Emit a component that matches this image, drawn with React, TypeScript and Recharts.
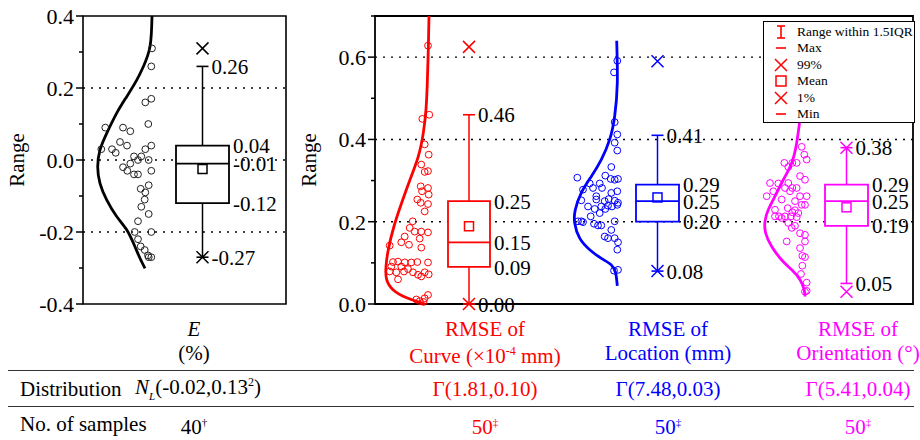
import React from 'react';
import {
  ComposedChart,
  XAxis,
  YAxis,
  CartesianGrid,
  Line,
  Scatter,
  ReferenceArea,
  ReferenceLine,
} from 'recharts';

const FONT = '"Liberation Serif", "Times New Roman", serif';
const RED = '#ff0000';
const BLUE = '#0000ff';
const MAGENTA = '#ff00ff';

// ---- axes ----
const LEFT_TICKS = [-0.4, -0.3, -0.2, -0.1, 0, 0.1, 0.2, 0.3, 0.4];
const RIGHT_TICKS = [0, 0.1, 0.2, 0.3, 0.4, 0.5, 0.6, 0.7];
const LEFT_GRID = [-0.2, 0, 0.2];
const RIGHT_GRID = [0.2, 0.4, 0.6];

// ---- E (%) panel : samples, fitted normal curve, box stats ----
const eSamples = [
  { x: 69, y: 0.31 }, { x: 68.3, y: 0.26 }, { x: 68.3, y: 0.17 }, { x: 62.3, y: 0.16 },
  { x: 65.3, y: 0.1 }, { x: 22.3, y: 0.09 }, { x: 40, y: 0.09 }, { x: 47.3, y: 0.08 },
  { x: 37, y: 0.05 }, { x: 44, y: 0.04 }, { x: 68.3, y: 0.04 }, { x: 18.3, y: 0.03 },
  { x: 29, y: 0.03 }, { x: 32.7, y: 0.02 }, { x: 62.3, y: 0.03 }, { x: 58.3, y: 0.01 },
  { x: 51, y: 0.01 }, { x: 55, y: 0.0 }, { x: 65.7, y: 0.0 }, { x: 47.3, y: -0.01 },
  { x: 40, y: -0.02 }, { x: 44.3, y: -0.03 }, { x: 68.3, y: -0.03 }, { x: 51, y: -0.04 },
  { x: 55, y: -0.04 }, { x: 65.7, y: -0.07 }, { x: 57.7, y: -0.08 }, { x: 62.3, y: -0.09 },
  { x: 61.7, y: -0.11 }, { x: 58.3, y: -0.13 }, { x: 65.7, y: -0.15 }, { x: 55, y: -0.17 },
  { x: 68.3, y: -0.2 }, { x: 51.7, y: -0.2 }, { x: 55, y: -0.22 }, { x: 57.7, y: -0.24 },
  { x: 61.7, y: -0.25 }, { x: 65, y: -0.265 }, { x: 68.3, y: -0.27 }, { x: 65.7, y: -0.27 },
];
const eCurve = [
  { y: 0.4, x: 69 }, { y: 0.315, x: 67 }, { y: 0.259, x: 60.3 }, { y: 0.222, x: 53.7 },
  { y: 0.176, x: 43.7 }, { y: 0.13, x: 33.7 }, { y: 0.074, x: 23.7 }, { y: 0.028, x: 17 },
  { y: -0.019, x: 14.7 }, { y: -0.065, x: 17 }, { y: -0.111, x: 23.7 }, { y: -0.157, x: 33.7 },
  { y: -0.194, x: 43.7 }, { y: -0.241, x: 52 }, { y: -0.273, x: 57 }, { y: -0.301, x: 62 },
];
const eStats = { lo: -0.27, q1: -0.12, med: -0.01, q3: 0.04, hi: 0.26, mean: -0.025 };
const eExtremes = [0.31, -0.27];

// ---- RMSE panel ----
const curveSamples = [
  { x: 53, y: 0.628 }, { x: 47.3, y: 0.45 }, { x: 54.3, y: 0.46 }, { x: 49.7, y: 0.388 },
  { x: 53.7, y: 0.363 }, { x: 46.3, y: 0.339 }, { x: 53, y: 0.323 }, { x: 49.7, y: 0.321 },
  { x: 45.7, y: 0.286 }, { x: 53, y: 0.282 }, { x: 47, y: 0.274 }, { x: 53.7, y: 0.266 },
  { x: 42.3, y: 0.254 }, { x: 45.7, y: 0.246 }, { x: 53, y: 0.243 }, { x: 49.7, y: 0.225 },
  { x: 37.7, y: 0.201 }, { x: 34.7, y: 0.185 }, { x: 39.7, y: 0.176 }, { x: 46.3, y: 0.176 },
  { x: 53, y: 0.174 }, { x: 29.7, y: 0.164 }, { x: 44.7, y: 0.159 }, { x: 26.3, y: 0.15 },
  { x: 34, y: 0.144 }, { x: 14.7, y: 0.142 }, { x: 46.3, y: 0.137 }, { x: 18, y: 0.102 },
  { x: 23, y: 0.103 }, { x: 29.7, y: 0.101 }, { x: 36.3, y: 0.101 }, { x: 42.3, y: 0.102 },
  { x: 53, y: 0.101 }, { x: 16.3, y: 0.091 }, { x: 26.3, y: 0.091 }, { x: 33, y: 0.085 },
  { x: 38, y: 0.077 }, { x: 43, y: 0.071 }, { x: 49.7, y: 0.077 }, { x: 53.7, y: 0.072 },
  { x: 21.3, y: 0.077 }, { x: 29, y: 0.079 }, { x: 14.7, y: 0.079 }, { x: 23, y: 0.06 },
  { x: 46.3, y: 0.067 }, { x: 53, y: 0.022 }, { x: 49.7, y: 0.014 }, { x: 44.7, y: 0.007 },
  { x: 48.5, y: 0.005 }, { x: 41.3, y: 0.011 },
];
const curveFit = [
  { y: 0.7, x: 54 }, { y: 0.62, x: 53.3 }, { y: 0.538, x: 52.3 }, { y: 0.473, x: 51 },
  { y: 0.416, x: 48.3 }, { y: 0.359, x: 43.3 }, { y: 0.302, x: 35 }, { y: 0.246, x: 26.7 },
  { y: 0.189, x: 19 }, { y: 0.132, x: 13.3 }, { y: 0.091, x: 11 }, { y: 0.059, x: 11.7 },
  { y: 0.034, x: 18.3 }, { y: 0.015, x: 31.7 }, { y: 0.0, x: 50 },
];
const curveStats = { lo: 0.0, q1: 0.09, med: 0.15, q3: 0.25, hi: 0.46, mean: 0.189 };
const curveExtremes = [0.625, 0.0];

const locationSamples = [
  { x: 242.3, y: 0.591 }, { x: 239, y: 0.563 }, { x: 239.7, y: 0.442 }, { x: 242.3, y: 0.412 },
  { x: 239.7, y: 0.392 }, { x: 242.3, y: 0.373 }, { x: 236.3, y: 0.333 }, { x: 230.3, y: 0.312 },
  { x: 235.7, y: 0.304 }, { x: 243, y: 0.304 }, { x: 239.7, y: 0.302 }, { x: 202.3, y: 0.307 },
  { x: 214.7, y: 0.293 }, { x: 224.7, y: 0.293 }, { x: 208, y: 0.278 }, { x: 218, y: 0.282 },
  { x: 227, y: 0.282 }, { x: 236.3, y: 0.27 }, { x: 242.3, y: 0.274 }, { x: 206.3, y: 0.252 },
  { x: 221.3, y: 0.254 }, { x: 229.7, y: 0.25 }, { x: 233.7, y: 0.255 }, { x: 239.7, y: 0.251 },
  { x: 243, y: 0.246 }, { x: 213, y: 0.237 }, { x: 219.7, y: 0.231 }, { x: 226.3, y: 0.237 },
  { x: 233, y: 0.239 }, { x: 237, y: 0.237 }, { x: 242.3, y: 0.241 }, { x: 224.7, y: 0.221 },
  { x: 230.3, y: 0.231 }, { x: 215.7, y: 0.213 }, { x: 203, y: 0.201 }, { x: 206.3, y: 0.201 },
  { x: 208, y: 0.199 }, { x: 239.7, y: 0.201 }, { x: 219, y: 0.195 }, { x: 223, y: 0.191 },
  { x: 226.3, y: 0.191 }, { x: 236.3, y: 0.18 }, { x: 229.7, y: 0.164 }, { x: 233, y: 0.16 },
  { x: 239.7, y: 0.16 }, { x: 243, y: 0.15 }, { x: 242.3, y: 0.132 }, { x: 239, y: 0.081 },
  { x: 243, y: 0.083 }, { x: 221.3, y: 0.262 },
];
const locationFit = [
  { y: 0.64, x: 241.7 }, { y: 0.538, x: 242.3 }, { y: 0.457, x: 239.7 }, { y: 0.4, x: 234.7 },
  { y: 0.351, x: 226.3 }, { y: 0.31, x: 216.3 }, { y: 0.27, x: 206.3 }, { y: 0.229, x: 200.3 },
  { y: 0.197, x: 199.7 }, { y: 0.16, x: 204.7 }, { y: 0.132, x: 214.7 }, { y: 0.111, x: 226.3 },
  { y: 0.095, x: 236.3 }, { y: 0.075, x: 240.7 }, { y: 0.044, x: 242.3 },
];
const locationStats = { lo: 0.08, q1: 0.2, med: 0.25, q3: 0.29, hi: 0.41, mean: 0.259 };
const locationExtremes = [0.59, 0.08];

const orientSamples = [
  { x: 426.7, y: 0.382 }, { x: 429.3, y: 0.363 }, { x: 431.7, y: 0.351 }, { x: 409.3, y: 0.343 },
  { x: 417.3, y: 0.343 }, { x: 421.7, y: 0.343 }, { x: 413.3, y: 0.333 }, { x: 425, y: 0.311 },
  { x: 430, y: 0.302 }, { x: 395, y: 0.294 }, { x: 403.3, y: 0.293 }, { x: 413.3, y: 0.294 },
  { x: 410, y: 0.282 }, { x: 417.3, y: 0.282 }, { x: 421.7, y: 0.282 }, { x: 398.3, y: 0.274 },
  { x: 415, y: 0.274 }, { x: 391.7, y: 0.262 }, { x: 406.7, y: 0.254 }, { x: 425, y: 0.262 },
  { x: 431.7, y: 0.262 }, { x: 420, y: 0.25 }, { x: 426.7, y: 0.241 }, { x: 430, y: 0.241 },
  { x: 412.7, y: 0.233 }, { x: 417.3, y: 0.223 }, { x: 423.3, y: 0.221 }, { x: 400, y: 0.213 },
  { x: 404, y: 0.213 }, { x: 410, y: 0.213 }, { x: 416, y: 0.213 }, { x: 421.7, y: 0.211 },
  { x: 406.7, y: 0.209 }, { x: 413.3, y: 0.197 }, { x: 420, y: 0.19 }, { x: 416.7, y: 0.185 },
  { x: 425, y: 0.172 }, { x: 430, y: 0.168 }, { x: 411.7, y: 0.152 }, { x: 430, y: 0.152 },
  { x: 425, y: 0.136 }, { x: 427.3, y: 0.117 }, { x: 430, y: 0.114 }, { x: 427.3, y: 0.093 },
  { x: 426, y: 0.073 }, { x: 431.7, y: 0.052 }, { x: 430, y: 0.03 }, { x: 431.7, y: 0.032 },
  { x: 400, y: 0.229 }, { x: 420, y: 0.228 },
];
const orientFit = [
  { y: 0.6, x: 430 }, { y: 0.52, x: 428.5 }, { y: 0.449, x: 425 }, { y: 0.392, x: 421.7 },
  { y: 0.343, x: 416.7 }, { y: 0.302, x: 408.3 }, { y: 0.262, x: 400 }, { y: 0.229, x: 393.3 },
  { y: 0.201, x: 390 }, { y: 0.172, x: 390.7 }, { y: 0.14, x: 396.7 }, { y: 0.107, x: 406.7 },
  { y: 0.083, x: 416.7 }, { y: 0.059, x: 425 }, { y: 0.034, x: 429.3 }, { y: 0.018, x: 430 },
];
const orientStats = { lo: 0.05, q1: 0.19, med: 0.25, q3: 0.29, hi: 0.38, mean: 0.235 };
const orientExtremes = [0.38, 0.03];

// ---- table below the panels ----
const HEAD_TOP = ['RMSE of', 'RMSE of', 'RMSE of'];
const HEAD_UNITS = ['Curve (×10', 'Location (mm)', 'Orientation (°)'];
const GAMMA_FITS = ['Γ(1.81,0.10)', 'Γ(7.48,0.03)', 'Γ(5.41,0.04)'];
const NORMAL_FIT = ['-0.02', '0.13'];
const SAMPLE_COUNTS = ['40', '50', '50', '50'];
const SAMPLE_MARKS = ['†', '‡', '‡', '‡'];
const LEGEND_ITEMS = ['Range within 1.5IQR', 'Max', '99%', 'Mean', '1%', 'Min'];

// layout (x positions in panel units)
const LEFT_W = 203;
const RIGHT_W = 538;
const E_POS = 119.5;
const RIGHT_POS = [94, 282.5, 471.5];
const COL_X = [194, 485, 668, 858];
const COL_COLORS = ['#000', RED, BLUE, MAGENTA];

const AxisTick = (props: any) => {
  const { x, y, payload } = props;
  const v = payload.value;
  const major = Math.round(v * 10) % 2 === 0;
  return (
    <g>
      <line x1={x - (major ? 7 : 4)} x2={x} y1={y} y2={y} stroke="#000" strokeWidth={1.5} />
      {major && (
        <text x={x - 9} y={y} dy="0.36em" textAnchor="end" fontSize={22} fontFamily={FONT} fill="#000">
          {v.toFixed(1)}
        </text>
      )}
    </g>
  );
};

const circleShape = (color: string) => (p: any) => (
  <circle cx={p.cx} cy={p.cy} r={3.4} fill="none" stroke={color} strokeWidth={1} />
);
const crossShape = (color: string) => (p: any) => (
  <path
    d={`M${p.cx - 6},${p.cy - 6}L${p.cx + 6},${p.cy + 6}M${p.cx - 6},${p.cy + 6}L${p.cx + 6},${p.cy - 6}`}
    stroke={color}
    strokeWidth={1.5}
    fill="none"
  />
);
const dashShape = (color: string) => (p: any) => (
  <line x1={p.cx - 6} x2={p.cx + 6} y1={p.cy} y2={p.cy} stroke={color} strokeWidth={1.6} />
);
const squareShape = (color: string) => (p: any) => (
  <rect x={p.cx - 4.5} y={p.cy - 4.5} width={9} height={9} fill="none" stroke={color} strokeWidth={1.5} />
);
const labelShape = (p: any) => (
  <text
    x={p.cx + (p.payload.kind === 'w' ? 9 : 4)}
    y={p.cy}
    dy="0.36em"
    fontSize={21}
    fontFamily={FONT}
    fill="#000"
  >
    {p.payload.text}
  </text>
);

function renderBox(key: string, s: any, pos: number, hw: number, color: string, extremes: number[]) {
  const labels = [
    { x: pos, y: s.hi, text: s.hi.toFixed(2), kind: 'w' },
    { x: pos + hw, y: s.q3, text: s.q3.toFixed(2), kind: 'b' },
    { x: pos + hw, y: s.med, text: s.med.toFixed(2), kind: 'b' },
    { x: pos + hw, y: s.q1, text: s.q1.toFixed(2), kind: 'b' },
    { x: pos, y: s.lo, text: s.lo.toFixed(2), kind: 'w' },
  ];
  return [
    <ReferenceLine key={key + 'wu'} segment={[{ x: pos, y: s.q3 }, { x: pos, y: s.hi }]} stroke={color} strokeWidth={1.5} ifOverflow="visible" />,
    <ReferenceLine key={key + 'wl'} segment={[{ x: pos, y: s.lo }, { x: pos, y: s.q1 }]} stroke={color} strokeWidth={1.5} ifOverflow="visible" />,
    <ReferenceArea key={key + 'box'} x1={pos - hw} x2={pos + hw} y1={s.q1} y2={s.q3} fill="#fff" fillOpacity={1} stroke={color} strokeWidth={1.8} ifOverflow="visible" />,
    <ReferenceLine key={key + 'med'} segment={[{ x: pos - hw, y: s.med }, { x: pos + hw, y: s.med }]} stroke={color} strokeWidth={1.8} ifOverflow="visible" />,
    <Scatter key={key + 'cap'} data={[{ x: pos, y: s.hi }, { x: pos, y: s.lo }]} shape={dashShape(color)} isAnimationActive={false} />,
    <Scatter key={key + 'x'} data={extremes.map((y) => ({ x: pos, y }))} shape={crossShape(color)} isAnimationActive={false} />,
    <Scatter key={key + 'mean'} data={[{ x: pos, y: s.mean }]} shape={squareShape(color)} isAnimationActive={false} />,
    <Scatter key={key + 'lbl'} data={labels} shape={labelShape} isAnimationActive={false} />,
  ];
}

function fitLine(key: string, data: any[], color: string) {
  return (
    <Line
      key={key}
      data={data}
      dataKey="y"
      type="natural"
      stroke={color}
      strokeWidth={2.8}
      dot={false}
      activeDot={false}
      isAnimationActive={false}
    />
  );
}

const yLabel = (offset: number) => ({
  value: 'Range',
  angle: -90,
  position: 'insideLeft' as const,
  offset,
  style: { textAnchor: 'middle', fontSize: 21, fontFamily: FONT, fill: '#000' },
});

function LegendIcon({ i }: { i: number }) {
  const c = RED;
  if (i === 0)
    return (
      <g stroke={c} strokeWidth={1.6}>
        <line x1={0} x2={0} y1={-6} y2={6} />
        <line x1={-4} x2={4} y1={-6} y2={-6} />
        <line x1={-4} x2={4} y1={6} y2={6} />
      </g>
    );
  if (i === 1 || i === 5) return <line x1={-5} x2={5} y1={0} y2={0} stroke={c} strokeWidth={1.6} />;
  if (i === 3) return <rect x={-5} y={-5} width={10} height={10} fill="none" stroke={c} strokeWidth={1.5} />;
  return <path d="M-6,-6L6,6M-6,6L6,-6" stroke={c} strokeWidth={1.5} fill="none" />;
}

const cell = (x: number, y: number, color: string, content: React.ReactNode, align: 'center' | 'left' = 'center') => (
  <div
    style={{
      position: 'absolute',
      left: x,
      top: y,
      transform: align === 'center' ? 'translate(-50%, -50%)' : 'translate(0, -50%)',
      whiteSpace: 'nowrap',
      color,
      fontSize: 21,
      lineHeight: '22px',
    }}
  >
    {content}
  </div>
);

export default function App() {
  return (
    <div
      style={{
        position: 'absolute',
        left: 0,
        top: 0,
        width: 920,
        height: 440,
        background: '#fff',
        fontFamily: FONT,
        overflow: 'hidden',
      }}
    >
      <div style={{ position: 'absolute', left: 0, top: 0 }}>
        <ComposedChart width={300} height={320} margin={{ top: 16, right: 14, bottom: 16, left: 0 }}>
          <CartesianGrid horizontal vertical={false} horizontalValues={LEFT_GRID} stroke="#000" strokeDasharray="2 6" strokeWidth={1.4} />
          <XAxis type="number" dataKey="x" domain={[0, LEFT_W]} hide />
          <YAxis
            type="number"
            dataKey="y"
            domain={[-0.4, 0.4]}
            ticks={LEFT_TICKS}
            interval={0}
            width={83}
            tick={AxisTick}
            tickLine={false}
            axisLine={false}
            tickSize={0}
            tickMargin={0}
            label={yLabel(17)}
          />
          <ReferenceArea x1={0} x2={LEFT_W} y1={-0.4} y2={0.4} fill="none" stroke="#000" strokeWidth={1.6} ifOverflow="visible" />
          {fitLine('eFit', eCurve, '#000')}
          <Scatter data={eSamples} shape={circleShape('#222')} isAnimationActive={false} />
          {renderBox('e', eStats, E_POS, 26.5, '#000', eExtremes)}
        </ComposedChart>
      </div>

      <div style={{ position: 'absolute', left: 290, top: 0 }}>
        <ComposedChart width={630} height={320} margin={{ top: 16, right: 7, bottom: 16, left: 0 }}>
          <CartesianGrid horizontal vertical={false} horizontalValues={RIGHT_GRID} stroke="#000" strokeDasharray="2 6" strokeWidth={1.4} />
          <XAxis type="number" dataKey="x" domain={[0, RIGHT_W]} hide />
          <YAxis
            type="number"
            dataKey="y"
            domain={[0, 0.7]}
            ticks={RIGHT_TICKS}
            interval={0}
            width={85}
            tick={AxisTick}
            tickLine={false}
            axisLine={false}
            tickSize={0}
            tickMargin={0}
            label={yLabel(19)}
          />
          <ReferenceArea x1={0} x2={RIGHT_W} y1={0} y2={0.7} fill="none" stroke="#000" strokeWidth={1.8} ifOverflow="visible" />
          {fitLine('cFit', curveFit, RED)}
          {fitLine('lFit', locationFit, BLUE)}
          {fitLine('oFit', orientFit, MAGENTA)}
          <Scatter data={curveSamples} shape={circleShape(RED)} isAnimationActive={false} />
          <Scatter data={locationSamples} shape={circleShape(BLUE)} isAnimationActive={false} />
          <Scatter data={orientSamples} shape={circleShape(MAGENTA)} isAnimationActive={false} />
          {renderBox('c', curveStats, RIGHT_POS[0], 21, RED, curveExtremes)}
          {renderBox('l', locationStats, RIGHT_POS[1], 21.5, BLUE, locationExtremes)}
          {renderBox('o', orientStats, RIGHT_POS[2], 21.5, MAGENTA, orientExtremes)}
        </ComposedChart>
      </div>

      {/* legend */}
      <div
        style={{
          position: 'absolute',
          left: 763,
          top: 21,
          width: 152,
          height: 102,
          boxSizing: 'border-box',
          border: '1.5px solid #000',
          background: '#fff',
        }}
      >
        {LEGEND_ITEMS.map((t, i) => (
          <div key={t} style={{ position: 'absolute', left: 0, top: 2 + i * 16.4, height: 16, width: 150 }}>
            <svg width={30} height={16} style={{ position: 'absolute', left: 2, top: 0 }}>
              <g transform="translate(15,8)">
                <LegendIcon i={i} />
              </g>
            </svg>
            <span
              style={{
                position: 'absolute',
                left: 33,
                top: 0,
                fontSize: 13.5,
                lineHeight: '16px',
                color: '#000',
                whiteSpace: 'nowrap',
              }}
            >
              {t}
            </span>
          </div>
        ))}
      </div>

      {/* table */}
      {cell(COL_X[0], 329, '#000', <i>E</i>)}
      {cell(COL_X[0], 353, '#000', '(%)')}
      {HEAD_TOP.map((t, i) => (
        <React.Fragment key={'h' + i}>
          {cell(COL_X[i + 1], 329, COL_COLORS[i + 1], t)}
          {cell(
            COL_X[i + 1],
            353,
            COL_COLORS[i + 1],
            i === 0 ? (
              <span>
                {HEAD_UNITS[i]}
                <sup style={{ fontSize: 12 }}>-4</sup> mm)
              </span>
            ) : (
              HEAD_UNITS[i]
            )
          )}
        </React.Fragment>
      ))}
      <div style={{ position: 'absolute', left: 8, top: 370, width: 906, borderTop: '1.5px solid #333' }} />
      <div style={{ position: 'absolute', left: 8, top: 406, width: 906, borderTop: '1.5px solid #333' }} />
      {cell(20, 389, '#000', 'Distribution', 'left')}
      {cell(
        COL_X[0] + 4,
        389,
        '#000',
        <span>
          <i>N</i>
          <sub style={{ fontSize: 11 }}>
            <i>L</i>
          </sub>
          ({NORMAL_FIT[0]},{NORMAL_FIT[1]}
          <sup style={{ fontSize: 12 }}>2</sup>)
        </span>
      )}
      {GAMMA_FITS.map((t, i) => (
        <React.Fragment key={'g' + i}>{cell(COL_X[i + 1], 389, COL_COLORS[i + 1], t)}</React.Fragment>
      ))}
      {cell(20, 424, '#000', 'No. of samples', 'left')}
      {SAMPLE_COUNTS.map((t, i) => (
        <React.Fragment key={'n' + i}>
          {cell(
            COL_X[i],
            424,
            COL_COLORS[i],
            <span>
              {t}
              <sup style={{ fontSize: 11 }}>{SAMPLE_MARKS[i]}</sup>
            </span>
          )}
        </React.Fragment>
      ))}
    </div>
  );
}
